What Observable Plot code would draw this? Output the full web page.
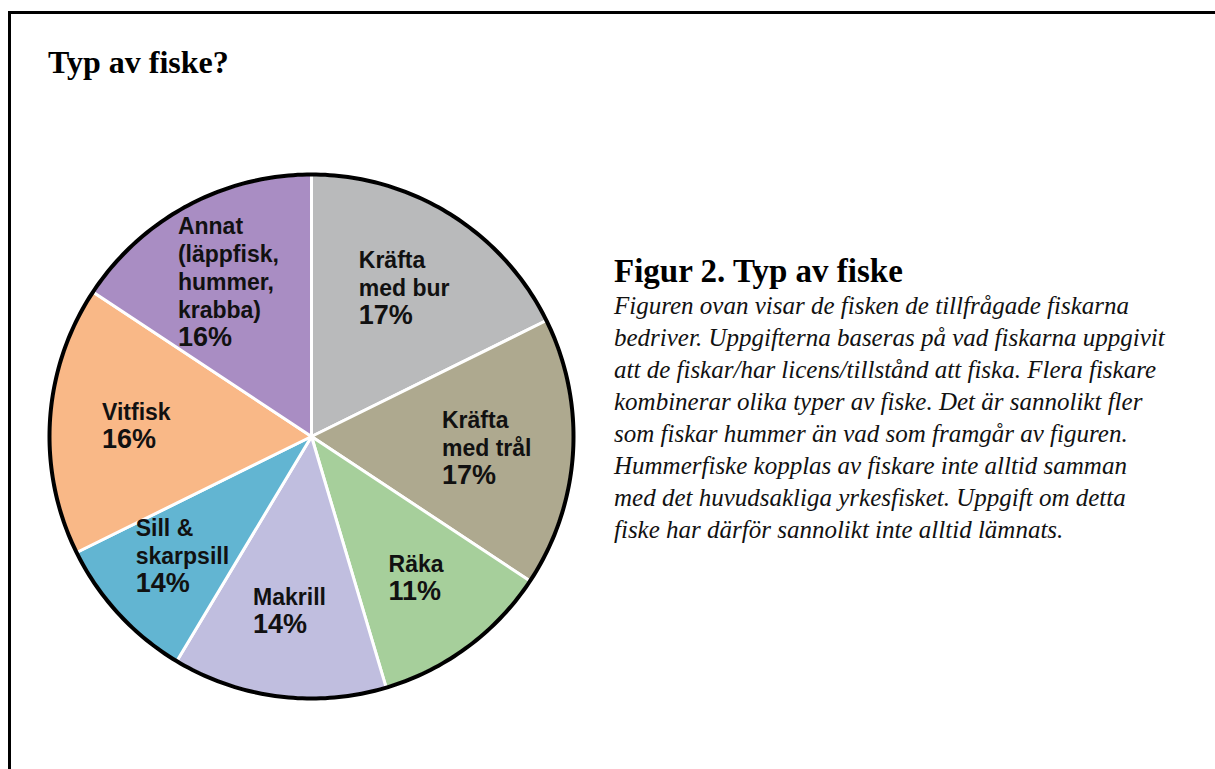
<!DOCTYPE html>
<html>
<head>
<meta charset="utf-8">
<script src="https://cdn.jsdelivr.net/npm/d3@7"></script>
<script src="https://cdn.jsdelivr.net/npm/@observablehq/plot@0.6"></script>
<style>
  html, body { margin: 0; padding: 0; background: #fff; width: 1215px; height: 769px; overflow: hidden; }
  #frame { position: absolute; left: 8px; top: 11px; width: 1240px; height: 800px; border: 3px solid #000; box-sizing: border-box; }
  #title { position: absolute; left: 48px; top: 46px; font-family: "Liberation Serif", serif; font-weight: bold; font-size: 32px; line-height: 1; color: #000; white-space: nowrap; }
  #chart { position: absolute; left: 31px; top: 156px; }
  #figtitle { position: absolute; left: 614px; top: 255px; font-family: "Liberation Serif", serif; font-weight: bold; font-size: 33px; line-height: 1; color: #000; white-space: nowrap; }
  #caption { position: absolute; left: 614px; top: 290px; font-family: "Liberation Serif", serif; font-style: italic; font-size: 25px; line-height: 32px; color: #111; white-space: pre; }
</style>
</head>
<body>
<div id="frame"></div>
<div id="title">Typ av fiske?</div>
<div id="chart"></div>
<div id="figtitle">Figur 2. Typ av fiske</div>
<div id="caption"></div>
<script>
// ---- data ----
const categories = ["Kräfta med bur", "Kräfta med trål", "Räka", "Makrill", "Sill & skarpsill", "Vitfisk", "Annat (läppfisk, hummer, krabba)"];
const labelNames = ["Kräfta\nmed bur", "Kräfta\nmed trål", "Räka", "Makrill", "Sill &\nskarpsill", "Vitfisk", "Annat\n(läppfisk,\nhummer,\nkrabba)"];
// slice sizes as drawn (share of the circle, %)
const shares = [17.7, 16.6, 11.1, 13.2, 9.1, 16.6, 15.7];
// printed percentage labels
const percentLabels = ["17%", "17%", "11%", "14%", "14%", "16%", "16%"];
const sliceColors = ["#b9babb", "#aea98f", "#a6cf9b", "#c0bedf", "#62b5d2", "#f9b887", "#a98dc3"];
const captionLines = [
  "Figuren ovan visar de fisken de tillfrågade fiskarna",
  "bedriver. Uppgifterna baseras på vad fiskarna uppgivit",
  "att de fiskar/har licens/tillstånd att fiska. Flera fiskare",
  "kombinerar olika typer av fiske. Det är sannolikt fler",
  "som fiskar hummer än vad som framgår av figuren.",
  "Hummerfiske kopplas av fiskare inte alltid samman",
  "med det huvudsakliga yrkesfisket. Uppgift om detta",
  "fiske har därför sannolikt inte alltid lämnats."
];

document.getElementById("caption").textContent = captionLines.join("\n");

// ---- geometry ----
const size = 560, margin = 18;
const unit = (size - 2 * margin) / 2; // px per data unit
const nameSize = 23, pctSize = 27, lineStep = 28;
const labelRadius = 0.67;

const total = d3.sum(shares);
let acc = 0;
const slices = shares.map((v, i) => {
  const a0 = acc / total * 2 * Math.PI;
  acc += v;
  const a1 = acc / total * 2 * Math.PI;
  return {i, cat: categories[i], a0, a1};
});

const slicePts = slices.flatMap(s => {
  const n = Math.max(2, Math.ceil((s.a1 - s.a0) / (Math.PI / 180)));
  const arr = [{cat: s.cat, x: 0, y: 0}];
  for (let k = 0; k <= n; k++) {
    const a = s.a0 + (s.a1 - s.a0) * k / n;
    arr.push({cat: s.cat, x: Math.sin(a), y: Math.cos(a)});
  }
  return arr;
});

const ringPts = d3.range(0, 361).map(d => ({x: Math.sin(d * Math.PI / 180), y: Math.cos(d * Math.PI / 180)}));

// text measurement
const ctx = document.createElement("canvas").getContext("2d");
function textW(t, fs) { ctx.font = `bold ${fs}px "Liberation Sans"`; return ctx.measureText(t).width; }

const labels = slices.map(s => {
  const mid = (s.a0 + s.a1) / 2;
  const cx = labelRadius * Math.sin(mid), cy = labelRadius * Math.cos(mid);
  const lines = labelNames[s.i].split("\n");
  const n = lines.length;
  const maxW = Math.max(...lines.map(l => textW(l, nameSize)), textW(percentLabels[s.i], pctSize));
  const firstBase = 0.71 * lineStep;
  const capTopOff = firstBase - 0.716 * nameSize;
  const centerOff = (capTopOff + firstBase + n * lineStep) / 2;
  const yName = cy + centerOff / unit;
  const pctBase = firstBase + n * lineStep;
  const yPct = yName - (pctBase - 0.71 * pctSize) / unit;
  const x = cx - (maxW / 2) / unit;
  return {name: labelNames[s.i], pct: percentLabels[s.i], x, yName, yPct};
});

const chart = Plot.plot({
  width: size,
  height: size,
  margin,
  x: {domain: [-1, 1], axis: null},
  y: {domain: [-1, 1], axis: null},
  color: {domain: categories, range: sliceColors},
  style: {background: "transparent", overflow: "visible"},
  marks: [
    Plot.line(slicePts, {x: "x", y: "y", z: "cat", fill: "cat", stroke: "white", strokeWidth: 3, strokeLinejoin: "round", curve: "linear-closed"}),
    Plot.line(ringPts, {x: "x", y: "y", stroke: "black", strokeWidth: 4, curve: "linear-closed"}),
    Plot.text(labels, {x: "x", y: "yName", text: "name", textAnchor: "start", lineAnchor: "top", lineHeight: lineStep / nameSize, fontSize: nameSize, fontWeight: "bold", fontFamily: "Liberation Sans", fill: "#111"}),
    Plot.text(labels, {x: "x", y: "yPct", text: "pct", textAnchor: "start", lineAnchor: "top", fontSize: pctSize, fontWeight: "bold", fontFamily: "Liberation Sans", fill: "#111"})
  ]
});
document.getElementById("chart").appendChild(chart);
</script>
</body>
</html>
